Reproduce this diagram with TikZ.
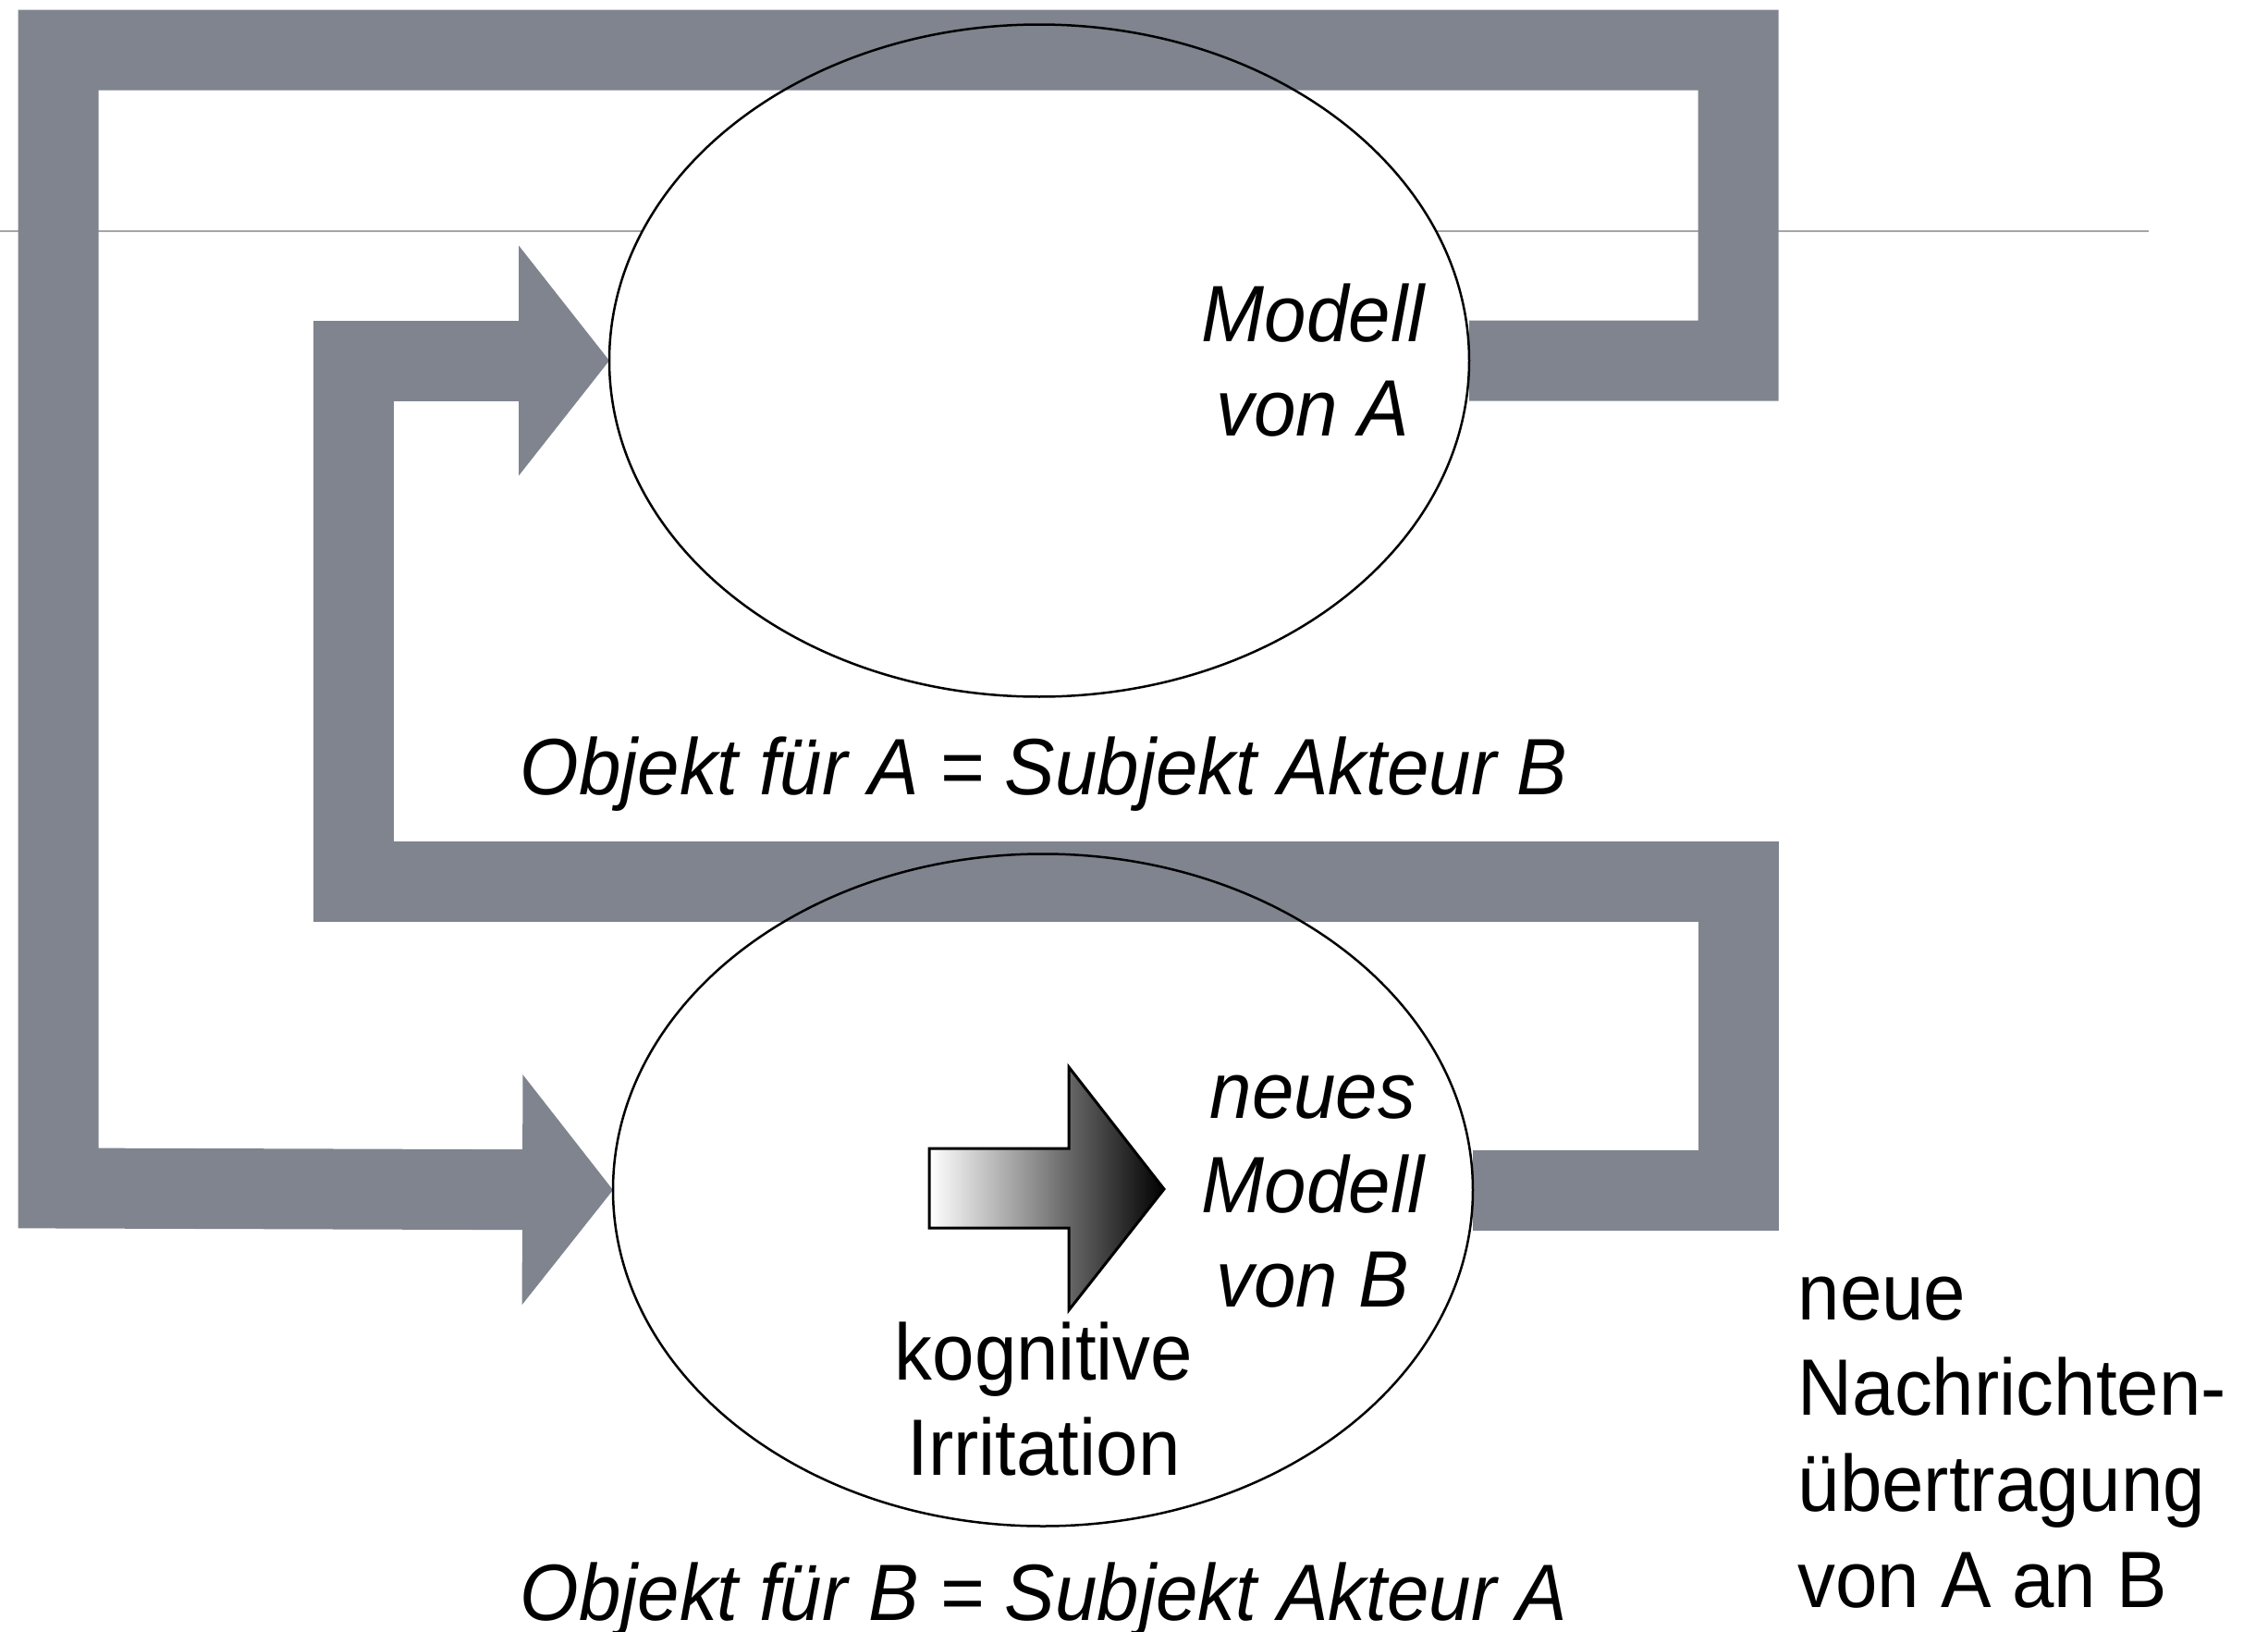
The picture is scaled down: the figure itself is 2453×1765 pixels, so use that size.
\documentclass[tikz,border=0pt]{standalone}
\usepackage{fontspec}
\setmainfont{Liberation Sans}[FakeStretch=0.945]
\usepackage{tikz}
\usetikzlibrary{arrows.meta,shapes.geometric}
\definecolor{bargray}{RGB}{127,132,143}
\definecolor{rulegray}{RGB}{165,165,165}

\begin{document}
\begin{tikzpicture}[x=0.1mm,y=-0.1mm,
    modellnode/.style={ellipse,minimum width=93mm,minimum height=72.7mm,inner sep=0pt,outer sep=0pt,fill=white},
    loopbar/.style={draw=bargray,line width=8.7mm,line join=miter,-{Triangle[length=9.8mm,width=24.9mm,line width=0pt]}},
    modelltext/.style={font=\fontsize{24.6pt}{29pt}\selectfont\itshape,align=center,inner sep=0pt},
    plaintext/.style={font=\fontsize{24.6pt}{29.5pt}\selectfont,inner sep=0pt},]
    \useasboundingbox (0,0) rectangle (2453,1765);
    \draw[rulegray,line width=0.25mm] (0,250) -- (2324,250);
    \node[modellnode] at (1124,390) (modellA) {};
    \node[modellnode] at (1128,1287) (modellB) {};
    \draw[loopbar] (modellA.east) -| (1880,54) -| (63,1285) -- (modellB.west);
    \draw[loopbar] (modellB.east) -| (1880,953) -| (382,390) -- (modellA.west);
    \draw[line width=0.25mm] (modellA.center) ellipse [x radius=46.5mm,y radius=36.35mm];
    \draw[line width=0.25mm] (modellB.center) ellipse [x radius=46.5mm,y radius=36.35mm];
    \shade[left color=white,right color=black,draw=black,line width=0.3mm] (1005,1242) -- (1156,1242) -- (1156,1154) -- (1259,1286) -- (1156,1417) -- (1156,1328) -- (1005,1328) -- cycle;
    \node[modelltext] at (1420,390) (textA) {Modell\\von A};
    \node[modelltext] at (1420,1289) (textB) {neues\\Modell\\von B};
    \node[plaintext,align=center] at (1129,1513) (irritation) {kognitive\\Irritation};
    \node[modelltext,anchor=base] at (1129,859) (objektA) {Objekt für A = Subjekt Akteur B};
    \node[modelltext,anchor=base] at (1129,1752) (objektB) {Objekt für B = Subjekt Akteur A};
    \node[plaintext,align=left,anchor=north west] at (1944,1380) (nachricht) {neue\\Nachrichten-\\übertragung\\von A an B};
\end{tikzpicture}
\end{document}
